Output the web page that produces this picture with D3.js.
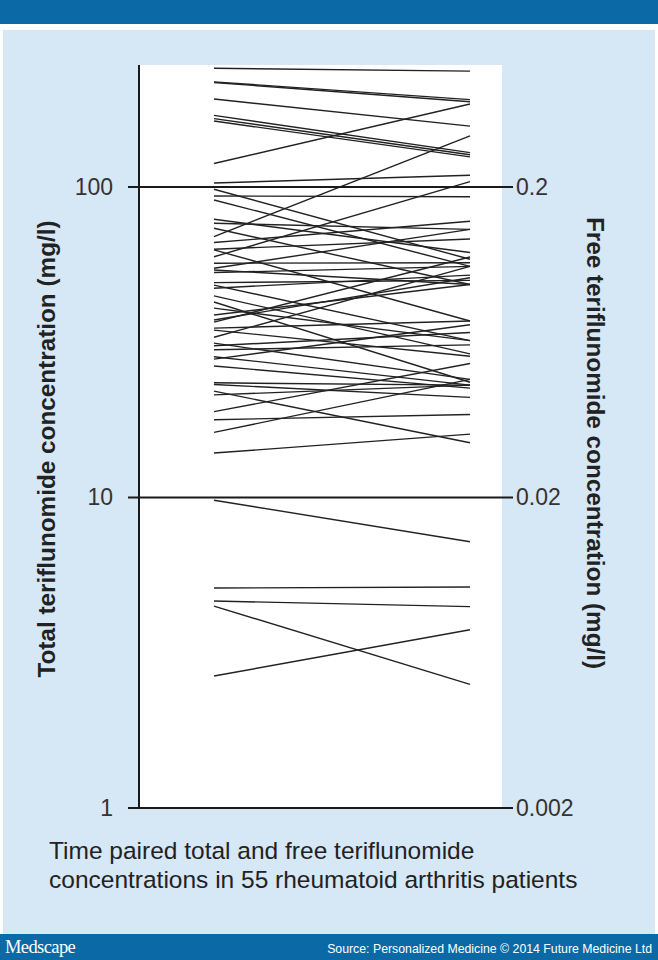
<!DOCTYPE html>
<html>
<head>
<meta charset="utf-8">
<script src="https://cdn.jsdelivr.net/npm/d3@7"></script>
<style>
  html, body { margin: 0; padding: 0; background: #ffffff; }
  svg { display: block; }
</style>
</head>
<body>
<svg id="chart" width="658" height="960"></svg>
<script>
// ---- Data ----
const timepoints = ["total", "free"];
// Total teriflunomide concentration (mg/l), left end of each line
const totalConc = [241, 218, 217, 192, 170, 166, 163, 119, 103, 98.3,
  93.5, 90.8, 78.7, 76.4, 73.6, 69.2, 66.2, 63.0, 59.6, 56.8,
  54.7, 53.0, 49.2, 48.3, 47.2, 44.6, 40.7, 38.7, 37.3, 36.7,
  35.1, 34.6, 32.8, 31.4, 30.8, 28.4, 27.9, 26.5, 23.4, 23.1,
  22.0, 18.9, 17.8, 16.2, 13.9, 62.7, 42.6, 54.0, 29.9, 21.4,
  9.8, 5.11, 4.64, 4.47, 2.66];
// Free teriflunomide concentration (mg/l), right end of each line
const freeConc = [0.472, 0.382, 0.376, 0.314, 0.258, 0.254, 0.250, 0.370, 0.218, 0.117,
  0.186, 0.111, 0.123, 0.146, 0.097, 0.292, 0.155, 0.136, 0.208, 0.114,
  0.146, 0.111, 0.100, 0.064, 0.104, 0.058, 0.064, 0.097, 0.102, 0.119,
  0.074, 0.057, 0.111, 0.048, 0.068, 0.046, 0.072, 0.045, 0.046, 0.042,
  0.030, 0.054, 0.037, 0.048, 0.032, 0.074, 0.047, 0.097, 0.062, 0.046,
  0.0144, 0.0103, 0.0089, 0.0050, 0.0075];
const leftTicks = [1, 10, 100];
const leftTickLabels = ["1", "10", "100"];
const rightTicks = [0.002, 0.02, 0.2];
const rightTickLabels = ["0.002", "0.02", "0.2"];
const leftTitle = "Total teriflunomide concentration (mg/l)";
const rightTitle = "Free teriflunomide concentration (mg/l)";
const captionLines = ["Time paired total and free teriflunomide",
  "concentrations in 55 rheumatoid arthritis patients"];
const sourceText = "Source: Personalized Medicine \u00A9 2014 Future Medicine Ltd";
const brandText = "Medscape";

// ---- Drawing ----
const svg = d3.select("#chart");
const FONT = "'Liberation Sans', Arial, Helvetica, sans-serif";
const BAND = "#0b6aa5";
const PANEL = "#d6e7f6";

svg.append("rect").attr("x", 0).attr("y", 0).attr("width", 658).attr("height", 24).attr("fill", BAND);
svg.append("rect").attr("x", 3).attr("y", 30).attr("width", 652).attr("height", 904).attr("fill", PANEL);
svg.append("rect").attr("x", 0).attr("y", 934).attr("width", 658).attr("height", 26).attr("fill", BAND);

const plot = { left: 139, right: 502, top: 65, bottom: 808 };
const yLeft = d3.scaleLog().domain([1, 247]).range([plot.bottom, plot.top]);
const yRight = d3.scaleLog().domain([0.002, 0.494]).range([plot.bottom, plot.top]);
const x = d3.scalePoint().domain(timepoints).range([214, 470]);

// white plotting area
svg.append("rect").attr("x", plot.left).attr("y", plot.top)
  .attr("width", plot.right - plot.left).attr("height", plot.bottom - plot.top)
  .attr("fill", "#ffffff");

// patient lines
const pairs = totalConc.map((t, i) => ({ total: t, free: freeConc[i] }));
svg.append("g").selectAll("line").data(pairs).join("line")
  .attr("x1", x("total")).attr("y1", d => yLeft(d.total))
  .attr("x2", x("free")).attr("y2", d => yRight(d.free))
  .attr("stroke", "#222").attr("stroke-width", 1.4);

// gridlines / tick lines at decades
svg.append("g").selectAll("line").data(leftTicks).join("line")
  .attr("x1", 128).attr("x2", 513)
  .attr("y1", d => yLeft(d)).attr("y2", d => yLeft(d))
  .attr("stroke", "#1a1a1a").attr("stroke-width", 2);

// left axis line
svg.append("line").attr("x1", plot.left).attr("x2", plot.left)
  .attr("y1", plot.top).attr("y2", plot.bottom + 1)
  .attr("stroke", "#1a1a1a").attr("stroke-width", 2);

// left axis labels
const axL = svg.append("g").attr("transform", "translate(128,0)")
  .call(d3.axisLeft(yLeft).tickValues(leftTicks).tickSize(0).tickPadding(15)
    .tickFormat((d, i) => leftTickLabels[i]));
axL.select(".domain").remove();
axL.selectAll("text").attr("font-family", FONT).attr("font-size", 23).attr("fill", "#333");

// right axis labels
const axR = svg.append("g").attr("transform", "translate(513,0)")
  .call(d3.axisRight(yRight).tickValues(rightTicks).tickSize(0).tickPadding(3)
    .tickFormat((d, i) => rightTickLabels[i]));
axR.select(".domain").remove();
axR.selectAll("text").attr("font-family", FONT).attr("font-size", 23).attr("fill", "#333");

// axis titles
svg.append("text").attr("transform", "translate(55,449) rotate(-90)")
  .attr("text-anchor", "middle").attr("font-family", FONT).attr("font-weight", "bold")
  .attr("font-size", 24.3).attr("fill", "#222").text(leftTitle);
svg.append("text").attr("transform", "translate(587,443) rotate(90)")
  .attr("text-anchor", "middle").attr("font-family", FONT).attr("font-weight", "bold")
  .attr("font-size", 24.3).attr("fill", "#222").text(rightTitle);

// caption
svg.append("g").selectAll("text").data(captionLines).join("text")
  .attr("x", 49).attr("y", (d, i) => 859 + i * 29)
  .attr("font-family", FONT).attr("font-size", 24.5).attr("fill", "#222")
  .text(d => d);

// footer
svg.append("text").attr("x", 5).attr("y", 953)
  .attr("font-family", "'Liberation Serif', 'DejaVu Serif', serif").attr("font-size", 18.5)
  .attr("letter-spacing", -0.6).attr("fill", "#ffffff").text(brandText);
svg.append("text").attr("x", 652).attr("y", 953).attr("text-anchor", "end")
  .attr("font-family", FONT).attr("font-size", 12.3).attr("fill", "#ffffff").text(sourceText);
</script>
</body>
</html>
